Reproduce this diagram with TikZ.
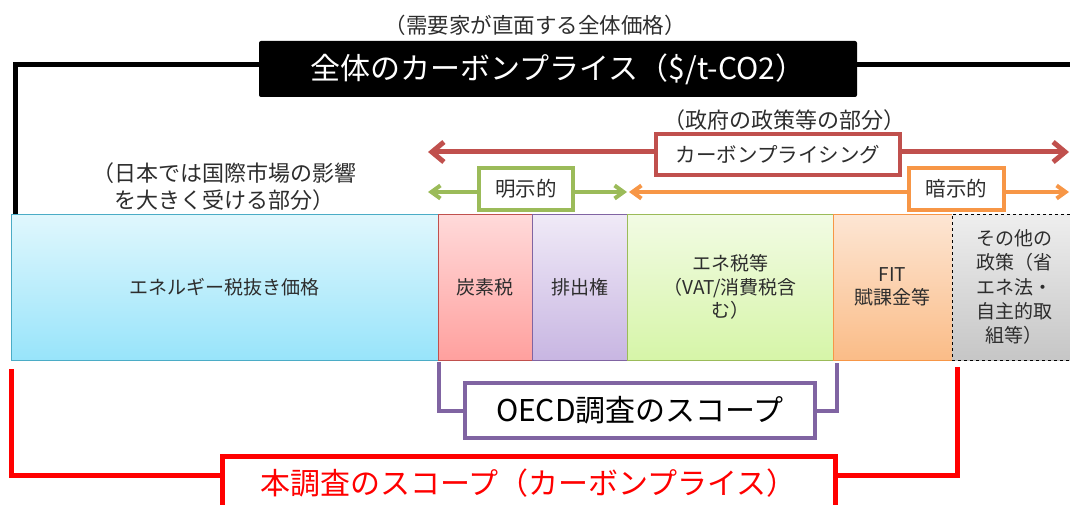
\documentclass[tikz,border=0pt]{standalone}
\usepackage{fontspec}
\setmainfont{Noto Sans CJK JP}
\usetikzlibrary{arrows.meta}
\definecolor{txt}{RGB}{45,45,45}
\definecolor{cpRed}{RGB}{192,80,77}
\definecolor{cpGreen}{RGB}{155,187,89}
\definecolor{cpOrange}{RGB}{247,150,70}
\definecolor{cpPurple}{RGB}{128,100,162}
\definecolor{cpBlue}{RGB}{75,172,198}
\definecolor{scopeRed}{RGB}{255,0,0}
\definecolor{blueT}{RGB}{224,247,253}
\definecolor{blueB}{RGB}{152,228,250}
\definecolor{redT}{RGB}{255,218,218}
\definecolor{redB}{RGB}{255,160,158}
\definecolor{purT}{RGB}{240,234,247}
\definecolor{purB}{RGB}{200,182,226}
\definecolor{grnT}{RGB}{242,251,228}
\definecolor{grnB}{RGB}{214,245,168}
\definecolor{orgT}{RGB}{253,230,212}
\definecolor{orgB}{RGB}{250,188,135}
\definecolor{gryT}{RGB}{238,238,238}
\definecolor{gryB}{RGB}{198,198,198}
\begin{document}
\begin{tikzpicture}[x=1pt,y=-1pt,
  every node/.style={inner sep=0pt,outer sep=0pt,text=txt},
  bar/.style={rectangle,draw,line width=1pt,minimum height=146pt,align=center,
    font=\fontsize{19}{23.5}\selectfont},
  note/.style={font=\fontsize{22}{27}\selectfont,align=left},
  tagbox/.style={rectangle,fill=white,line width=4pt,font=\fontsize{20.5}{24}\selectfont},
  bigbox/.style={rectangle,fill=white,font=\fontsize{30}{36}\selectfont},
  redarrow/.style={draw=cpRed,line width=5pt,{Straight Barb[length=12pt,width=20pt]}-{Straight Barb[length=12pt,width=20pt]}},
  grnarrow/.style={draw=cpGreen,line width=4pt,{Straight Barb[length=9pt,width=13pt]}-{Straight Barb[length=9pt,width=13pt]}},
  orgarrow/.style={draw=cpOrange,line width=4pt,{Straight Barb[length=9pt,width=13pt]}-{Straight Barb[length=9pt,width=13pt]}},
  blackline/.style={draw=black,line width=5pt},
  purline/.style={draw=cpPurple,line width=4pt},
  scopeline/.style={draw=scopeRed,line width=5pt}
]
\useasboundingbox (0,0) rectangle (1070,505);

% ---- title and top bracket ----
\node[font=\fontsize{21.5}{26}\selectfont] (demand) at (535,25) {（需要家が直面する全体価格）};
\node[rectangle,fill=black,rounded corners=2pt,minimum width=598pt,minimum height=56pt,
      text=white,font=\fontsize{30}{36}\selectfont] (title) at (558,69) {全体のカーボンプライス（\$/t-CO2）};
\coordinate (tl) at (15.5,214);
\coordinate (tr) at (1075,65);
\draw[blackline] ([yshift=4pt]title.west) -| (tl);
\draw[blackline] ([yshift=4pt]title.east) -- (tr);

% ---- annotations ----
\node[font=\fontsize{22}{28}\selectfont] (gov) at (784,120) {（政府の政策等の部分）};
\node[note,anchor=west] (japan) at (92,186.5) {（日本では国際市場の影響\\\hspace*{1em}を大きく受ける部分）};

% ---- arrows ----
\coordinate (cpL) at (428,152);
\coordinate (cpR) at (1069,152);
\coordinate (exL) at (428,192);
\coordinate (mid) at (628,192);
\coordinate (imR) at (1069,192);
\draw[redarrow] (cpL) -- (cpR);
\draw[grnarrow] (exL) -- ([xshift=-1pt]mid);
\draw[orgarrow] ([xshift=1pt]mid) -- (imR);
\node[tagbox,draw=cpRed,minimum width=244pt,minimum height=41pt] (cp) at (778,154.5) {カーボンプライシング};
\node[tagbox,draw=cpGreen,minimum width=94pt,minimum height=42pt] (explicit) at (526,189) {明示的};
\node[tagbox,draw=cpOrange,minimum width=95pt,minimum height=42pt] (implicit) at (956.5,189) {暗示的};

% ---- bars ----
\node[bar,draw=cpBlue,top color=blueT,bottom color=blueB,minimum width=427pt] (base) at (224.5,287) {エネルギー税抜き価格};
\node[bar,draw=cpRed,top color=redT,bottom color=redB,minimum width=94pt] (ctax) at (485,287) {炭素税};
\node[bar,draw=cpPurple,top color=purT,bottom color=purB,minimum width=95pt] (ets) at (579.5,287) {排出権};
\node[bar,draw=cpGreen,top color=grnT,bottom color=grnB,minimum width=206pt] (etax) at (730,287) {エネ税等\\（VAT/消費税含\\む）};
\node[bar,draw=cpOrange,top color=orgT,bottom color=orgB,minimum width=119pt] (fit) at (892.5,287) {FIT\\賦課金等};
\node[bar,draw=black,dashed,top color=gryT,bottom color=gryB,minimum width=124pt,text width=118pt,
      font=\fontsize{19}{24.3}\selectfont] (other) at (1014,287) {その他の\\政策（省\\エネ法・\\自主的取\\組等）};

% ---- scope brackets ----
\coordinate (pl) at (438.5,362);
\coordinate (pr) at (837,363);
\node[bigbox,draw=cpPurple,line width=4pt,minimum width=350pt,minimum height=55pt,text=black] (oecd) at (640,410.5) {OECD調査のスコープ};
\draw[purline] (oecd.west) -| (pl);
\draw[purline] (oecd.east) -| (pr);

\coordinate (sl) at (11.5,369);
\coordinate (sr) at (957,367);
\node[bigbox,draw=scopeRed,line width=5pt,minimum width=613pt,minimum height=56pt,text=scopeRed] (scope) at (528.5,484) {\raisebox{4pt}{本調査のスコープ（カーボンプライス）}};
\draw[scopeline] ([yshift=9pt]scope.west) -| (sl);
\draw[scopeline] ([yshift=9pt]scope.east) -| (sr);
\end{tikzpicture}
\end{document}
